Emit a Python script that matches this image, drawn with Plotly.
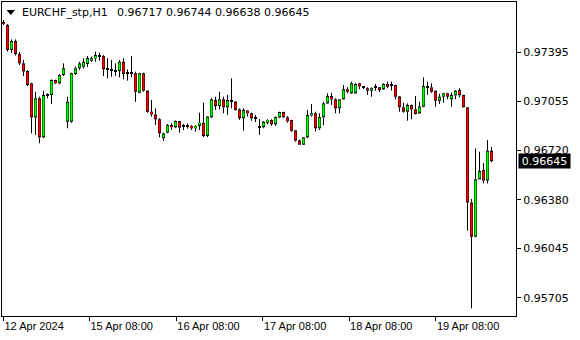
import plotly.graph_objects as go

# ---------------- data (EURCHF_stp, H1) ----------------
opens = [
    0.97601, 0.97580, 0.97409, 0.97470, 0.97381, 0.97317, 0.97264, 0.97180, 0.96945, 0.97077,
    0.96808, 0.97093, 0.97100, 0.97203, 0.97180, 0.97237, 0.96916, 0.96916, 0.97244, 0.97283,
    0.97294, 0.97313, 0.97335, 0.97352, 0.97374, 0.97367, 0.97276, 0.97269, 0.97266, 0.97264,
    0.97328, 0.97249, 0.97252, 0.97249, 0.97115, 0.97249, 0.97129, 0.96985, 0.96966, 0.96933,
    0.96802, 0.96841, 0.96893, 0.96878, 0.96921, 0.96886, 0.96880, 0.96887, 0.96871, 0.96887,
    0.96909, 0.96818, 0.96946, 0.97065, 0.97024, 0.97070, 0.97015, 0.97063, 0.97054, 0.97001,
    0.96940, 0.96992, 0.96974, 0.96938, 0.96876, 0.96878, 0.96909, 0.96928, 0.96898, 0.96945,
    0.96983, 0.96946, 0.96928, 0.96857, 0.96788, 0.96758, 0.96809, 0.96959, 0.96974, 0.96871,
    0.96946, 0.97042, 0.97093, 0.97070, 0.97008, 0.97070, 0.97139, 0.97111, 0.97111, 0.97180,
    0.97151, 0.97146, 0.97129, 0.97151, 0.97153, 0.97139, 0.97175, 0.97166, 0.97168, 0.97090,
    0.97015, 0.96985, 0.97031, 0.97001, 0.96973, 0.97019, 0.97161, 0.97152, 0.97129, 0.97060,
    0.97088, 0.97111, 0.97070, 0.97097, 0.97134, 0.97100, 0.97015, 0.96361, 0.96126, 0.96520,
    0.96584, 0.96512, 0.96717]

highs = [
    0.97615, 0.97587, 0.97481, 0.97481, 0.97395, 0.97340, 0.97271, 0.97184, 0.97122, 0.97088,
    0.97129, 0.97111, 0.97207, 0.97205, 0.97244, 0.97317, 0.97088, 0.97253, 0.97294, 0.97328,
    0.97352, 0.97367, 0.97363, 0.97397, 0.97390, 0.97374, 0.97352, 0.97340, 0.97317, 0.97340,
    0.97352, 0.97276, 0.97367, 0.97260, 0.97252, 0.97253, 0.97134, 0.97065, 0.97008, 0.96940,
    0.96841, 0.96900, 0.96905, 0.96925, 0.96921, 0.96900, 0.96904, 0.96893, 0.96893, 0.96978,
    0.97047, 0.96955, 0.97077, 0.97088, 0.97122, 0.97088, 0.97100, 0.97214, 0.97058, 0.97008,
    0.97008, 0.96997, 0.96978, 0.96962, 0.96935, 0.96921, 0.96933, 0.96933, 0.96952, 0.96985,
    0.96985, 0.96955, 0.96930, 0.96859, 0.96795, 0.96811, 0.96997, 0.97038, 0.96985, 0.96974,
    0.97053, 0.97111, 0.97115, 0.97077, 0.97072, 0.97168, 0.97153, 0.97191, 0.97180, 0.97184,
    0.97161, 0.97153, 0.97153, 0.97175, 0.97155, 0.97180, 0.97191, 0.97192, 0.97170, 0.97093,
    0.97047, 0.97042, 0.97034, 0.97093, 0.97053, 0.97221, 0.97191, 0.97180, 0.97130, 0.97107,
    0.97115, 0.97115, 0.97115, 0.97134, 0.97146, 0.97102, 0.97017, 0.96385, 0.96733, 0.96710,
    0.96632, 0.96790, 0.96744]

lows = [
    0.97580, 0.97398, 0.97388, 0.97371, 0.97306, 0.97230, 0.97161, 0.96836, 0.96825, 0.96768,
    0.96802, 0.97077, 0.97038, 0.97175, 0.97173, 0.97230, 0.96871, 0.96909, 0.97237, 0.97271,
    0.97283, 0.97292, 0.97328, 0.97328, 0.97335, 0.97230, 0.97214, 0.97225, 0.97230, 0.97221,
    0.97207, 0.97198, 0.97221, 0.97053, 0.97111, 0.97122, 0.96978, 0.96951, 0.96893, 0.96809,
    0.96784, 0.96836, 0.96859, 0.96871, 0.96841, 0.96859, 0.96869, 0.96859, 0.96848, 0.96859,
    0.96809, 0.96811, 0.96941, 0.96997, 0.97001, 0.96974, 0.96962, 0.97008, 0.96992, 0.96928,
    0.96855, 0.96951, 0.96923, 0.96914, 0.96825, 0.96871, 0.96898, 0.96887, 0.96887, 0.96940,
    0.96940, 0.96909, 0.96847, 0.96779, 0.96756, 0.96756, 0.96802, 0.96951, 0.96848, 0.96859,
    0.96893, 0.97038, 0.97031, 0.96974, 0.96974, 0.97068, 0.97111, 0.97107, 0.97107, 0.97139,
    0.97139, 0.97100, 0.97088, 0.97129, 0.97120, 0.97134, 0.97146, 0.97130, 0.97070, 0.96985,
    0.96978, 0.96923, 0.96933, 0.96966, 0.96969, 0.97015, 0.97100, 0.97115, 0.97019, 0.97038,
    0.97047, 0.97070, 0.97019, 0.97070, 0.97083, 0.97013, 0.96167, 0.95634, 0.96122, 0.96519,
    0.96493, 0.96492, 0.96638]

closes = [
    0.97587, 0.97409, 0.97470, 0.97381, 0.97317, 0.97261, 0.97168, 0.96945, 0.97077, 0.96808,
    0.97100, 0.97100, 0.97203, 0.97180, 0.97237, 0.97283, 0.97053, 0.97249, 0.97283, 0.97317,
    0.97328, 0.97354, 0.97352, 0.97374, 0.97363, 0.97276, 0.97272, 0.97273, 0.97263, 0.97328,
    0.97244, 0.97252, 0.97249, 0.97122, 0.97249, 0.97129, 0.96984, 0.96966, 0.96932, 0.96836,
    0.96836, 0.96893, 0.96878, 0.96921, 0.96875, 0.96883, 0.96890, 0.96871, 0.96887, 0.96909,
    0.96818, 0.96951, 0.97070, 0.97024, 0.97070, 0.97015, 0.97065, 0.97058, 0.96997, 0.96940,
    0.96997, 0.96974, 0.96940, 0.96935, 0.96873, 0.96916, 0.96928, 0.96898, 0.96948, 0.96983,
    0.96946, 0.96919, 0.96854, 0.96786, 0.96758, 0.96809, 0.96962, 0.96974, 0.96871, 0.96948,
    0.97042, 0.97093, 0.97070, 0.97008, 0.97070, 0.97139, 0.97122, 0.97180, 0.97175, 0.97159,
    0.97149, 0.97129, 0.97146, 0.97153, 0.97134, 0.97175, 0.97156, 0.97163, 0.97088, 0.97015,
    0.96985, 0.97031, 0.97001, 0.96969, 0.97021, 0.97161, 0.97152, 0.97122, 0.97060, 0.97088,
    0.97111, 0.97088, 0.97100, 0.97129, 0.97097, 0.97015, 0.96361, 0.96126, 0.96520, 0.96577,
    0.96512, 0.96717, 0.96645]

bar_index = list(range(len(opens)))

x_tick_pos = [0, 21.5, 43.2, 64.85, 86.4, 108.1]
x_tick_text = ["12 Apr 2024", "15 Apr 08:00", "16 Apr 08:00", "17 Apr 08:00",
               "18 Apr 08:00", "19 Apr 08:00"]
y_tick_vals = [0.97395, 0.97055, 0.96720, 0.96380, 0.96045, 0.95705]
y_tick_text = ["0.97395", "0.97055", "0.96720", "0.96380", "0.96045", "0.95705"]

symbol_name = "EURCHF_stp,H1"
last_bar = dict(o=opens[-1], h=highs[-1], l=lows[-1], c=closes[-1])

BULL = "#00FF00"
BEAR = "#FF0000"

# ---------------- layout geometry (pixels) ----------------
W, H = 580, 340
PL, PR, PT, PB = 2, 516, 2, 316     # plot area box
pw, ph = PR - PL, PB - PT
X_RANGE = [-0.375, 128.125]
Y_RANGE = [0.955813, 0.977385]
ONE_PX = (Y_RANGE[1] - Y_RANGE[0]) / ph   # price units per pixel


def px_x(px):
    return (px - PL) / pw


def px_y(py):
    return (PB - py) / ph


# wicks built from high/low, split so they don't cross the body
wick_x, wick_y = [], []
for i, o, h, l, c in zip(bar_index, opens, highs, lows, closes):
    top, bot = max(o, c), min(o, c)
    wick_x += [i, i, None, i, i, None]
    wick_y += [h, top, None, bot, l, None]

# bodies built from open/close: black outer box + coloured core
outer_base = [min(o, c) for o, c in zip(opens, closes)]
outer_size = [max(abs(c - o), ONE_PX) for o, c in zip(opens, closes)]
inner_base = [b + ONE_PX for b in outer_base]
inner_size = [max(s - 2 * ONE_PX, 0) for s in outer_size]
body_color = [BULL if c >= o else BEAR for o, c in zip(opens, closes)]

fig = go.Figure()
fig.add_trace(go.Bar(
    x=bar_index, y=outer_size, base=outer_base, width=0.75,
    marker=dict(color="black", line=dict(width=0)),
    hoverinfo="skip", showlegend=False,
))
fig.add_trace(go.Bar(
    x=bar_index, y=inner_size, base=inner_base, width=0.5,
    marker=dict(color=body_color, line=dict(width=0)),
    hoverinfo="skip", showlegend=False,
))
fig.add_trace(go.Scatter(
    x=wick_x, y=wick_y, mode="lines",
    line=dict(color="black", width=1),
    connectgaps=False, hoverinfo="skip", showlegend=False,
))

font_y = dict(family="DejaVu Sans", size=11, color="black")
font_x = dict(family="Liberation Sans", size=11, color="black")

fig.update_layout(
    width=W, height=H,
    margin=dict(l=PL, r=W - PR, t=PT, b=H - PB, pad=0),
    paper_bgcolor="white", plot_bgcolor="white",
    showlegend=False, barmode="overlay",
    xaxis=dict(
        range=X_RANGE,
        tickvals=x_tick_pos, ticktext=x_tick_text,
        ticks="outside", ticklen=4, tickcolor="black", tickwidth=1,
        ticklabelposition="outside right",
        showline=True, linecolor="black", linewidth=1, mirror=True,
        showgrid=False, zeroline=False,
        tickfont=font_x,
    ),
    yaxis=dict(
        side="right",
        range=Y_RANGE,
        tickvals=y_tick_vals, ticktext=y_tick_text,
        ticks="outside", ticklen=4, tickcolor="black", tickwidth=1,
        showline=True, linecolor="black", linewidth=1, mirror=True,
        showgrid=False, zeroline=False,
        tickfont=font_y,
    ),
)

# title triangle
fig.add_shape(
    type="path", xref="paper", yref="paper",
    path=f"M {px_x(6.5)} {px_y(10)} L {px_x(15)} {px_y(10)} L {px_x(10.75)} {px_y(15)} Z",
    fillcolor="black", line=dict(color="black", width=0),
)
fig.add_annotation(
    xref="paper", yref="paper", x=px_x(20), y=px_y(12.5),
    xanchor="left", yanchor="middle", showarrow=False,
    text=symbol_name, font=font_y,
)
fig.add_annotation(
    xref="paper", yref="paper", x=px_x(115), y=px_y(12.5),
    xanchor="left", yanchor="middle", showarrow=False,
    text=" ".join(f"{v:.5f}" for v in (last_bar["o"], last_bar["h"], last_bar["l"], last_bar["c"])),
    font=font_y,
)
# current price box
fig.add_annotation(
    xref="paper", yref="y", x=px_x(518), y=last_bar["c"],
    xanchor="left", yanchor="middle", showarrow=False,
    text=f"{last_bar['c']:.5f}", font=dict(family="DejaVu Sans", size=11, color="white"),
    bgcolor="black", width=51, height=14, borderpad=0, align="center",
)

fig.write_html("out.html")
